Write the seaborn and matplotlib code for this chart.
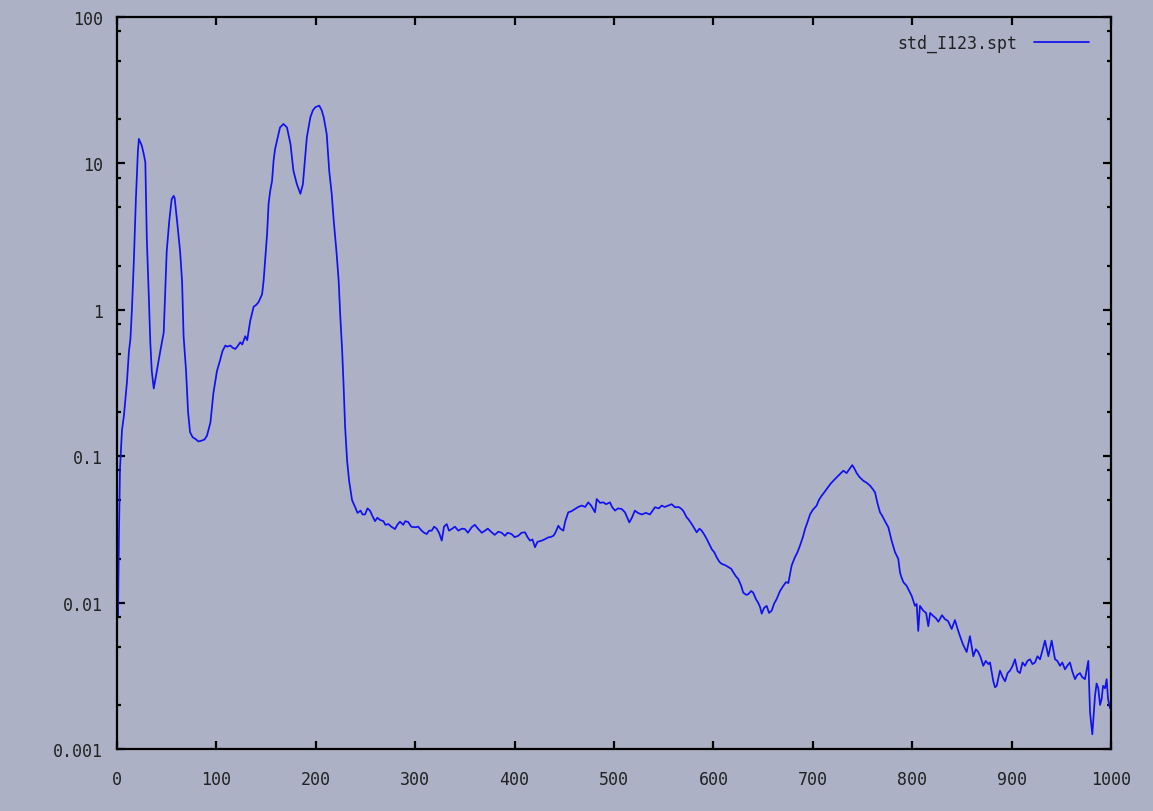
import numpy as np
import pandas as pd
import matplotlib
matplotlib.use("Agg")
import matplotlib.pyplot as plt
from matplotlib.ticker import FixedLocator, FixedFormatter, LogLocator, NullFormatter
import seaborn as sns

# Spectrum std_I123.spt, split into channel ranges (channel, counts)
ch_low = [0, 1, 2, 3, 5, 7, 10, 12, 13.5, 15, 17, 19, 21, 22, 23, 25, 27, 28.5, 30, 32,
          33.5, 35, 37, 40, 43.5, 47, 48.5, 50, 52.5, 55, 57, 58, 60.5, 63.5, 65.5, 67,
          69.5, 71.5, 73.5, 76, 79, 82, 85.5, 88, 90.5, 94, 97, 100.5, 104, 106, 109,
          111, 114, 116.5, 119]
ct_low = [0.0095, 0.0082, 0.03, 0.082, 0.15, 0.19, 0.32, 0.52, 0.63, 1.0, 2.2, 5.7, 12.0,
          14.7, 14.2, 13.2, 11.5, 10.2, 3.05, 1.24, 0.60, 0.38, 0.29, 0.38, 0.52, 0.70,
          1.32, 2.5, 4.0, 5.7, 6.0, 5.8, 4.0, 2.5, 1.55, 0.66, 0.38, 0.20, 0.146, 0.135,
          0.131, 0.126, 0.128, 0.13, 0.138, 0.17, 0.27, 0.38, 0.46, 0.52, 0.57, 0.56,
          0.57, 0.55, 0.54]

ch_peaks = [121, 124, 126, 129, 131, 134, 137.5, 140, 142.5, 146, 147.5, 149, 151, 152.5,
            154, 156, 157.5, 159, 161, 164, 167.5, 171, 174.5, 177.5, 181, 184.5, 187,
            189, 191, 194.5, 197, 199.5, 203.5, 206, 208, 211, 213.5, 216, 218, 221, 223,
            224.5, 226.5, 228, 229.5, 231.5, 233.5, 236.5, 239.5, 242, 245]
ct_peaks = [0.56, 0.60, 0.58, 0.66, 0.62, 0.84, 1.05, 1.08, 1.13, 1.28, 1.58, 2.16, 3.3,
            5.3, 6.4, 7.6, 10.4, 12.5, 14.3, 17.6, 18.6, 17.6, 13.6, 8.9, 7.2, 6.2, 7.2,
            10.4, 15.1, 20.6, 23.0, 24.2, 24.8, 23.0, 20.6, 15.8, 8.9, 6.2, 4.1, 2.4, 1.58,
            0.94, 0.53, 0.30, 0.158, 0.093, 0.068, 0.050, 0.045, 0.041, 0.0425]

ch_flat = [247, 249.5, 252, 254.5, 257, 259.6, 262, 264.6, 268, 270, 273, 276, 279.7, 282,
           284.7, 288, 290, 293, 296, 299.8, 303, 306.5, 309, 311.6, 314, 316.6, 319,
           321.6, 324, 326.7, 329, 331.7, 334, 336.7, 340, 343.4, 347, 350, 353, 356.8,
           360, 363.5, 367, 370.2, 373, 377, 380, 383.6, 387, 390.3, 393, 397, 400, 403.7,
           407, 410.5, 413, 415.5, 418, 420.5, 423, 427.3, 430, 433.9, 436, 439, 441, 444,
           446, 449, 451, 454, 457, 460.8, 464, 467.5, 471, 474.1, 477, 480.9, 482.6, 486,
           489.3, 492, 496, 498, 501, 504, 507.7]
ct_flat = [0.040, 0.040, 0.044, 0.0425, 0.039, 0.036, 0.038, 0.0367, 0.036, 0.034, 0.0344,
           0.033, 0.0318, 0.034, 0.0357, 0.034, 0.036, 0.0355, 0.033, 0.0327, 0.033, 0.031,
           0.030, 0.0294, 0.031, 0.031, 0.033, 0.032, 0.030, 0.0265, 0.033, 0.0344, 0.031,
           0.0318, 0.033, 0.031, 0.032, 0.0318, 0.030, 0.0327, 0.034, 0.0318, 0.030, 0.031,
           0.032, 0.0302, 0.029, 0.0305, 0.030, 0.0286, 0.030, 0.0294, 0.028, 0.0286, 0.030,
           0.0302, 0.028, 0.0265, 0.027, 0.0239, 0.026, 0.0265, 0.027, 0.0279, 0.028,
           0.0286, 0.030, 0.0335, 0.032, 0.031, 0.036, 0.0414, 0.042, 0.0436, 0.045, 0.046,
           0.045, 0.0484, 0.046, 0.0414, 0.051, 0.048, 0.0484, 0.047, 0.0484, 0.045, 0.0425,
           0.044, 0.0436]

ch_dip = [511, 515.4, 518, 521, 524, 527.9, 532, 536.2, 541.2, 545, 548, 551, 554.6, 558,
          561.4, 565, 568, 570, 573, 575, 578.2, 581, 583.2, 586, 588.2, 591, 593.3, 596,
          598.3, 601, 603.3, 606, 608.3, 612, 615, 618, 620, 623, 625, 628, 630, 633, 635,
          638, 640, 643, 645, 647, 648.6, 651, 653.6, 656, 658.6, 661, 663.7, 667, 670.3,
          673, 675.4, 678.7, 682, 684.5, 687.1, 690, 692.2, 695, 697.2, 700, 703.9, 706,
          708.9, 711, 714]
ct_dip = [0.0414, 0.0353, 0.038, 0.0425, 0.041, 0.040, 0.041, 0.040, 0.0448, 0.044, 0.046,
          0.045, 0.046, 0.047, 0.0448, 0.045, 0.0436, 0.042, 0.0383, 0.037, 0.0344, 0.032,
          0.0302, 0.032, 0.031, 0.029, 0.0272, 0.025, 0.0232, 0.022, 0.0204, 0.019, 0.0184,
          0.018, 0.0175, 0.017, 0.0161, 0.015, 0.0145, 0.013, 0.0117, 0.0113, 0.0114, 0.012,
          0.0117, 0.0105, 0.010, 0.0093, 0.0084, 0.0092, 0.0095, 0.0085, 0.0088, 0.0098,
          0.0106, 0.012, 0.013, 0.0138, 0.0136, 0.0179, 0.0204, 0.022, 0.0245, 0.028,
          0.0318, 0.036, 0.040, 0.043, 0.046, 0.050, 0.0537, 0.056, 0.0597]

ch_tail = [718, 722.3, 726, 730.7, 734, 737, 739.7, 742, 744.1, 747, 750.8, 754, 757.5, 760,
           762.6, 765, 767.6, 770, 772.6, 776, 779.3, 782.7, 786, 787.7, 789, 791.1, 794.5,
           797, 799.5, 802.8, 804.5, 806.1, 807.8, 811.2, 814, 816.2, 818, 821.2, 824,
           826.3, 830, 833, 836, 839.7, 843, 846, 848.1, 851, 854.8, 858.1, 861.5, 864,
           866.5, 869, 871.5, 874, 876.6, 878.3, 881.6, 883.3, 885, 888.3, 891, 893.4, 896,
           898.4, 901, 903.4, 906, 908.4, 911, 913.5, 916, 918.5, 921, 923.5, 926, 928.6,
           931, 933.6, 937, 940.3, 943.7, 946, 948.7, 951, 953.7, 956, 958.7, 961, 963.8,
           966, 968.8, 971, 973.8, 977.2, 978.9, 981.2, 983.9, 985.5, 987.2, 989, 990.6,
           992, 994, 995.6, 997, 999]
ct_tail = [0.065, 0.0698, 0.074, 0.0796, 0.0767, 0.082, 0.087, 0.082, 0.0767, 0.072, 0.068,
           0.066, 0.063, 0.060, 0.0566, 0.048, 0.0414, 0.039, 0.036, 0.0327, 0.0265, 0.0221,
           0.0199, 0.0161, 0.015, 0.0138, 0.013, 0.012, 0.0111, 0.0095, 0.0098, 0.0064,
           0.0095, 0.0088, 0.0085, 0.0069, 0.0085, 0.0081, 0.0078, 0.0074, 0.0082, 0.0077,
           0.0075, 0.0066, 0.0076, 0.0065, 0.0059, 0.0052, 0.0046, 0.0059, 0.0043, 0.0048,
           0.0046, 0.0042, 0.0037, 0.0040, 0.0038, 0.0039, 0.0029, 0.00264, 0.0027,
           0.00343, 0.0031, 0.0029, 0.0033, 0.00343, 0.0037, 0.0041, 0.0034, 0.0033, 0.0039,
           0.0037, 0.0040, 0.0041, 0.0038, 0.0039, 0.0043, 0.0041, 0.0047, 0.0055, 0.0043,
           0.0055, 0.0041, 0.0040, 0.0037, 0.0039, 0.0035, 0.0037, 0.0039, 0.0034, 0.0030,
           0.0032, 0.0033, 0.0031, 0.0030, 0.0040, 0.00178, 0.00126, 0.0023, 0.0028, 0.0026,
           0.0020, 0.0022, 0.0027, 0.0026, 0.0030, 0.0022, 0.0019]

x_ticks = [0, 100, 200, 300, 400, 500, 600, 700, 800, 900, 1000]
y_ticks = [0.001, 0.01, 0.1, 1, 10, 100]
y_tick_labels = ["0.001", "0.01", "0.1", "1", "10", "100"]
series_label = "std_I123.spt"

pairs = [(ch_low, ct_low), (ch_peaks, ct_peaks), (ch_flat, ct_flat),
         (ch_dip, ct_dip), (ch_tail, ct_tail)]
for c, v in pairs:
    assert len(c) == len(v), (len(c), len(v))

df = pd.DataFrame({
    "channel": np.concatenate([c for c, _ in pairs]),
    "counts": np.concatenate([v for _, v in pairs]),
})

BG = "#acb1c6"
INK = "#222222"

sns.set_theme(style="ticks")
plt.rcParams["font.family"] = ["DejaVu Sans Mono", "DejaVu Sans"]

fig = plt.figure(figsize=(11.53, 8.12), dpi=100, facecolor=BG)
ax = fig.add_axes([117 / 1153, 1 - 750 / 812, (1111 - 117) / 1153, (750 - 18) / 812])
ax.set_facecolor(BG)

sns.lineplot(data=df, x="channel", y="counts", ax=ax, color="#1010f0",
             linewidth=1.25, estimator=None, sort=False, label=series_label)

ax.set_yscale("log")
ax.set_xlim(0, 1000)
ax.set_ylim(0.001, 100)
ax.set_xlabel("")
ax.set_ylabel("")

ax.xaxis.set_major_locator(FixedLocator(x_ticks))
ax.yaxis.set_major_locator(FixedLocator(y_ticks))
ax.yaxis.set_major_formatter(FixedFormatter(y_tick_labels))
ax.yaxis.set_minor_locator(LogLocator(base=10, subs=[2, 5, 8]))
ax.yaxis.set_minor_formatter(NullFormatter())
ax.xaxis.set_minor_locator(FixedLocator([]))

for s in ax.spines.values():
    s.set_visible(True)
    s.set_color("black")
    s.set_linewidth(1.6)

ax.tick_params(axis="both", which="both", direction="in", top=True, right=True,
               color="black", labelcolor=INK, labelsize=12)
ax.tick_params(axis="both", which="major", length=6, width=1.6)
ax.tick_params(axis="y", which="minor", length=3, width=1.6)
ax.tick_params(axis="x", which="major", pad=15)
ax.tick_params(axis="y", which="major", pad=10)

leg = ax.legend(loc="upper right", bbox_to_anchor=(1 - 22 / 994, 1 - 17 / 732),
                frameon=False, markerfirst=False, borderpad=0, borderaxespad=0,
                handlelength=3.3, handletextpad=1.0, fontsize=12)
for t in leg.get_texts():
    t.set_color(INK)

fig.savefig("out.png", dpi=100, facecolor=BG)
